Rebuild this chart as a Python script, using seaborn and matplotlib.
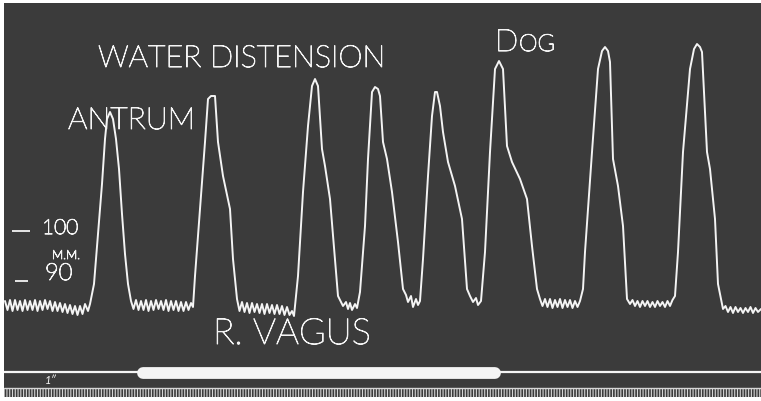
import matplotlib
matplotlib.use("Agg")
import matplotlib.pyplot as plt
import matplotlib.patheffects as pe
import seaborn as sns
import pandas as pd

# Kymograph trace: drum position (px along the record) and pressure (mm)
trace_x = [
    # rest before first wave
    5, 7.5, 10, 12.5, 15, 17.5, 20, 22.5, 25, 27.5, 30, 32.5, 35, 37.5, 40, 42.5, 45,
    47.5, 50, 52.5, 55, 57.5, 60, 62.5, 65, 67.5, 70, 72.5, 75, 77.5, 80, 82.5, 85, 88,
    # wave 1
    90, 94, 98, 102, 105, 107, 110, 113, 116, 119, 122, 125, 128, 131,
    # rest
    133.5, 136, 138.5, 141, 143.5, 146, 148.5, 151, 153.5, 156, 158.5, 161, 163.5, 166,
    168.5, 171, 173.5, 176, 178.5, 181, 183.5, 186, 188.5, 191,
    # wave 2
    193, 195, 200, 205, 208, 211, 215, 218, 223, 230, 233, 237,
    # rest
    239.5, 242, 244.5, 247, 249.5, 252, 254.5, 257, 259.5, 262, 264.5, 267, 269.5, 272,
    274.5, 277, 279.5, 282, 284.5, 287, 289.5, 292, 294,
    # wave 3
    298, 303, 308, 312, 315, 318, 322, 325, 330, 335, 338, 343, 346, 348, 350, 352, 355, 357, 360,
    # wave 4
    365, 368, 372, 375, 378, 380, 383, 387, 392, 398, 403, 406, 408, 411, 413, 416, 418, 420,
    # wave 5
    423, 428, 432, 435, 437, 440, 443, 448, 455, 462, 467, 470, 473, 476, 478, 481,
    # wave 6
    485, 490, 495, 499, 503, 507, 512, 520, 527, 532, 537, 540,
    # rest
    542.5, 545, 547.5, 550, 552.5, 555, 557.5, 560, 562.5, 565, 567.5, 570, 572.5, 575, 577.5, 580,
    # wave 7
    583, 585, 592, 598, 602, 605, 608, 610, 613, 618, 623, 627, 630,
    # rest
    632.5, 635, 637.5, 640, 642.5, 645, 647.5, 650, 652.5, 655, 657.5, 660, 662.5, 665,
    667.5, 670, 672.5, 675,
    # wave 8
    678, 683, 690, 694, 697, 700, 702, 707, 710, 715, 718, 723,
    # tail
    725.5, 728, 730.5, 733, 735.5, 738, 740.5, 743, 745.5, 748, 750.5, 753, 755.5, 758, 761,
]
trace_mm = [
    86.0, 84.2, 86.2, 84.0, 86.2, 84.2, 86.0, 84.0, 86.2, 84.2, 86.0, 84.2, 86.2, 84.0, 86.0, 84.2, 86.2,
    84.4, 86.0, 84.0, 85.8, 84.0, 85.6, 83.8, 85.4, 83.6, 85.2, 83.4, 85.0, 83.2, 85.0, 83.4, 85.4, 84.0,
    85.4, 89.4, 99.4, 109.4, 118.4, 122.4, 123.8, 122.4, 118.4, 112.4, 103.4, 95.4, 89.4, 86.0,
    84.4, 86.2, 84.2, 86.0, 84.2, 86.2, 84.0, 86.0, 84.2, 86.2, 84.4, 86.0, 84.2, 86.2,
    84.0, 86.0, 84.2, 86.0, 84.0, 85.8, 84.0, 85.8, 84.2, 85.6,
    84.8, 91.0, 104.4, 117.8, 126.4, 127.0, 127.0, 117.8, 111.0, 104.4, 94.4, 86.4,
    84.0, 85.8, 83.8, 85.6, 83.6, 85.6, 83.8, 85.4, 83.6, 85.4, 83.4, 85.4, 83.6, 85.2,
    83.4, 85.2, 83.4, 85.0, 83.2, 84.8, 83.2, 84.0, 83.0,
    91.0, 107.8, 121.0, 129.0, 130.4, 129.0, 116.4, 113.0, 106.4, 94.4, 87.0, 85.0, 85.8, 84.4, 85.6, 84.2, 85.4, 84.6, 87.8,
    101.0, 114.4, 127.8, 128.8, 128.4, 127.0, 117.8, 114.4, 107.8, 97.8, 88.4, 87.2, 85.8, 87.0, 84.8, 86.4, 85.2, 86.0,
    94.4, 111.0, 123.0, 127.8, 127.8, 125.0, 119.8, 113.8, 109.0, 102.4, 88.4, 87.0, 85.8, 86.6, 85.2, 86.0,
    95.8, 115.8, 132.4, 134.0, 132.4, 117.0, 113.8, 110.4, 106.4, 97.0, 88.4, 86.4,
    85.0, 86.4, 84.8, 86.4, 84.6, 86.2, 84.8, 86.4, 84.6, 86.2, 84.8, 86.2, 84.6, 86.0, 84.8, 86.0,
    88.4, 95.8, 115.8, 132.4, 136.0, 136.8, 136.0, 133.8, 114.4, 109.0, 101.0, 86.4, 85.4,
    86.2, 85.0, 86.0, 84.8, 86.0, 85.0, 86.0, 84.8, 85.8, 84.8, 86.0, 85.0, 85.8, 84.8,
    86.0, 85.0, 86.2, 87.0,
    95.8, 115.8, 132.4, 136.4, 137.4, 136.8, 135.8, 115.8, 112.4, 102.4, 89.4, 84.4,
    85.0, 83.8, 84.8, 83.6, 84.8, 83.8, 84.6, 83.6, 84.6, 83.8, 84.8, 83.6, 84.6, 83.8, 84.4,
]

scale_marks_mm = [100, 90]
scale_labels = ["100", "90"]
vagus_on, vagus_off = 143, 495   # stimulation signal (drum px)

bg = "#3b3b3b"
ink = "#f4f4f4"

sns.set_theme(style="dark", rc={"axes.facecolor": bg, "figure.facecolor": "white",
                                "hatch.linewidth": 0.8})
plt.rcParams["font.family"] = ["Lato", "DejaVu Sans"]

# handwritten-looking labels: light face, thickened slightly
hand = dict(color=ink, fontweight="light", va="baseline",
            path_effects=[pe.withStroke(linewidth=0.7, foreground=ink)])

df = pd.DataFrame({"x": trace_x, "mm": trace_mm})

fig = plt.figure(figsize=(7.61, 4.02), dpi=100)
ax = fig.add_axes([4 / 761, 4 / 402, 757 / 761, 394 / 402])
ax.set_xlim(4, 761)
ax.set_ylim(66.8, 145.6)

sns.lineplot(data=df, x="x", y="mm", sort=False, estimator=None,
             color=ink, linewidth=1.4, ax=ax)

# scale marks
ax.hlines(scale_marks_mm[0], 12, 30, color=ink, lw=1.3)
ax.hlines(scale_marks_mm[1], 15, 28, color=ink, lw=1.3)
ax.text(42, 99.4, scale_labels[0], fontsize=15, **hand)
ax.text(52, 94.4, "M.M.", fontsize=9, **hand)
ax.text(45, 90.2, scale_labels[1], fontsize=17, **hand)

# labels
ax.text(98, 132.8, "WATER DISTENSION", fontsize=22, **hand)
ax.text(68, 120.4, "ANTRUM", fontsize=22, **hand)
ax.text(495, 136.0, "D", fontsize=22, **hand)
ax.text(519, 136.0, "OG", fontsize=17, **hand)
ax.text(213, 77.4, "R. VAGUS", fontsize=26, **hand)

# signal line with vagus stimulation band
ax.axhline(71.8, color=ink, lw=1.6)
ax.hlines(71.6, vagus_on, vagus_off, color=ink, lw=8.5, capstyle="round")
ax.text(45, 69.6, "1\u2033", color=ink, fontsize=8, style="italic", va="baseline")

# time marker comb
ax.axhspan(66.8, 68.7, facecolor=bg, edgecolor="#d6d6d6", hatch="||||||", lw=0)
ax.axhline(68.7, color="#d6d6d6", lw=1.0)

ax.set_xticks([])
ax.set_yticks([])
ax.set_xlabel("")
ax.set_ylabel("")
for s in ax.spines.values():
    s.set_visible(False)

fig.savefig("out.png", dpi=100, facecolor="white")
